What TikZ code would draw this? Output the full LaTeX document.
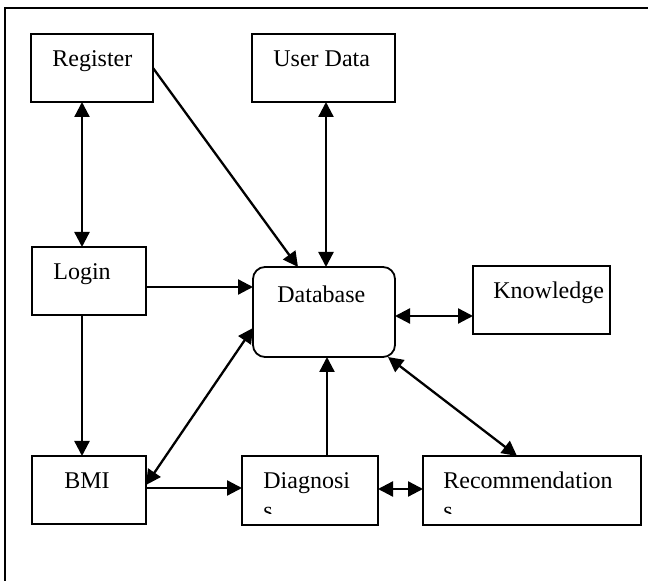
\documentclass[tikz,border=0pt]{standalone}
\usepackage{fontspec}
\setmainfont{Liberation Serif}
\usetikzlibrary{arrows.meta,calc}
\begin{document}
\begin{tikzpicture}[x=0.5pt,y=-0.5pt,
  >={Triangle[length=7.5pt,width=7.5pt]},
  box/.style={draw,line width=0.9pt,rectangle,anchor=north west,inner sep=0pt,outer sep=0pt},
  txt/.style={anchor=base west,inner sep=0pt,font=\fontsize{12}{13.8}\selectfont},
  conn/.style={line width=1.15pt},
  frame/.style={line width=1pt}]
\useasboundingbox (0,0) rectangle (648,581);
\clip (0,0) rectangle (648,581);
\draw[frame] (5,640) -- (5,8) -- (700,8);
% boxes
\node[box,minimum width=61pt,minimum height=34pt] (reg) at (31,34) {};
\node[box,minimum width=71.5pt,minimum height=34pt] (usr) at (252,34) {};
\node[box,minimum width=57pt,minimum height=34pt] (log) at (32,247) {};
\node[box,rounded corners=6pt,minimum width=71pt,minimum height=45pt] (db) at (253,267) {};
\node[box,minimum width=68.5pt,minimum height=34pt] (kn) at (473,266) {};
\node[box,minimum width=57pt,minimum height=34pt] (bmi) at (32,456) {};
\node[box,minimum width=68pt,minimum height=34.5pt] (dia) at (242,456) {};
\node[box,minimum width=109pt,minimum height=34.5pt] (rec) at (423,456) {};
% texts
\node[txt] (t-reg) at ($(reg.north west)+(21,33)$) {Register};
\node[txt] (t-usr) at ($(usr.north west)+(21,33)$) {User Data};
\node[txt] (t-log) at ($(log.north west)+(21,33)$) {Login};
\node[txt] (t-db) at ($(db.north west)+(24,36)$) {Database};
\node[txt] (t-kn) at ($(kn.north west)+(20,33)$) {Knowledge};
\node[txt] (t-bmi) at ($(bmi.north west)+(32,33)$) {BMI};
\node[txt] (t-dia) at ($(dia.north west)+(21,33)$) {Diagnosi};
\node[txt] (t-rec) at ($(rec.north west)+(20,33)$) {Recommendation};
\begin{scope}
  \clip (dia.north west) rectangle ($(dia.north east)+(0,58)$);
  \node[txt] (t-dia2) at ($(dia.north west)+(21,63)$) {s};
\end{scope}
\begin{scope}
  \clip (rec.north west) rectangle ($(rec.north east)+(0,58)$);
  \node[txt] (t-rec2) at ($(rec.north west)+(20,63)$) {s};
\end{scope}
% connectors
\draw[conn,<->] ($(reg.south west)+(51,0)$) -- ($(log.north west)+(50,0)$);
\draw[conn,->] (reg.east) -- ($(db.north west)+(45,0)$);
\draw[conn,<->] ($(usr.south west)+(74,0)$) -- ($(db.north west)+(73,0)$);
\draw[conn,->] ($(log.north east)+(0,40)$) -- ($(db.north west)+(0,20)$);
\draw[conn,<->] ($(db.north east)+(0,49)$) -- ($(kn.north west)+(0,50)$);
\draw[conn,->] ($(log.south west)+(50,0)$) -- ($(bmi.north west)+(50,0)$);
\draw[conn,<->] ($(bmi.north east)+(0,29)$) -- ($(db.north west)+(0,61)$);
\draw[conn,->] ($(bmi.north east)+(0,32)$) -- ($(dia.north west)+(0,32)$);
\draw[conn,->] ($(dia.north west)+(85,0)$) -- ($(db.south west)+(74,0)$);
\draw[conn,<->] ($(dia.north east)+(0,33)$) -- ($(rec.north west)+(0,33)$);
\draw[conn,<->] ($(db.south west)+(135,0)$) -- ($(rec.north west)+(94,0)$);
\end{tikzpicture}
\end{document}
